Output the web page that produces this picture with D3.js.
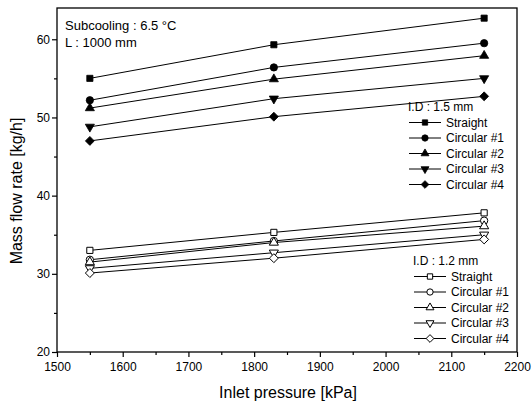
<!DOCTYPE html>
<html>
<head>
<meta charset="utf-8">
<script src="https://d3js.org/d3.v7.min.js"></script>
<style>
  body { margin: 0; background: #fff; }
  text { font-family: "Liberation Sans", Arial, sans-serif; fill: #000; }
</style>
</head>
<body>
<script>
var width = 532, height = 407;

// data
var pressures = [1550, 1830, 2150];
var seriesNames = ["Straight", "Circular #1", "Circular #2", "Circular #3", "Circular #4"];
var shapes = ["square", "circle", "triangle", "down", "diamond"];
var id15 = [
  [55.0, 59.3, 62.7],
  [52.2, 56.4, 59.5],
  [51.2, 54.9, 57.9],
  [48.8, 52.4, 55.0],
  [47.0, 50.1, 52.7]
];
var id12 = [
  [33.0, 35.3, 37.8],
  [31.8, 34.2, 36.8],
  [31.5, 34.0, 36.1],
  [30.7, 32.7, 35.0],
  [30.1, 32.0, 34.4]
];
var xTicks = [1500, 1600, 1700, 1800, 1900, 2000, 2100, 2200];
var yTicks = [20, 30, 40, 50, 60];

var margin = {left: 57, right: 15, top: 8, bottom: 55};

var svg = d3.select("body").append("svg")
    .attr("width", width)
    .attr("height", height);

var x = d3.scaleLinear().domain([1500, 2200]).range([margin.left, width - margin.right]);
var y = d3.scaleLinear().domain([20, 64]).range([height - margin.bottom, margin.top]);

// frame
svg.append("rect")
    .attr("x", x(1500)).attr("y", y(64))
    .attr("width", x(2200) - x(1500)).attr("height", y(20) - y(64))
    .attr("fill", "none").attr("stroke", "#000").attr("stroke-width", 1.3);

// axes
var xAxis = svg.append("g")
    .attr("transform", "translate(0," + y(20) + ")")
    .call(d3.axisBottom(x).tickValues(xTicks).tickSize(5).tickFormat(d3.format("d")));
svg.append("g")
    .attr("transform", "translate(0," + y(20) + ")")
    .call(d3.axisBottom(x).tickValues(d3.range(1550, 2200, 100)).tickSize(3).tickFormat(""));
var yAxis = svg.append("g")
    .attr("transform", "translate(" + x(1500) + ",0)")
    .call(d3.axisLeft(y).tickValues(yTicks).tickSize(5));
svg.append("g")
    .attr("transform", "translate(" + x(1500) + ",0)")
    .call(d3.axisLeft(y).tickValues([25, 35, 45, 55]).tickSize(3).tickFormat(""));

svg.selectAll(".domain").remove();
svg.selectAll(".tick line").attr("stroke", "#000").attr("stroke-width", 1.2);
xAxis.selectAll("text").attr("font-size", "12px").attr("dy", "0.95em")
    .style("font-family", "Liberation Sans, Arial, sans-serif");
yAxis.selectAll("text").attr("font-size", "12px").attr("x", -7)
    .style("font-family", "Liberation Sans, Arial, sans-serif");

// axis titles
svg.append("text")
    .attr("x", (x(1500) + x(2200)) / 2 + 1).attr("y", 398)
    .attr("text-anchor", "middle").attr("font-size", "16px")
    .text("Inlet pressure [kPa]");
svg.append("text")
    .attr("transform", "translate(22," + 191 + ") rotate(-90)")
    .attr("text-anchor", "middle").attr("font-size", "16px")
    .text("Mass flow rate [kg/h]");

// annotation
svg.append("text").attr("x", 65).attr("y", 30).attr("font-size", "13px")
    .text("Subcooling : 6.5 \u00B0C");
svg.append("text").attr("x", 65).attr("y", 47).attr("font-size", "13px")
    .text("L : 1000 mm");

// origin-style diamond: square turned 45 degrees
var diamondType = {
  draw: function(context, size) {
    var r = Math.sqrt(size / 2);
    context.moveTo(0, -r);
    context.lineTo(r, 0);
    context.lineTo(0, r);
    context.lineTo(-r, 0);
    context.closePath();
  }
};

function symbolFor(s, sc) {
  if (s === "square") return d3.symbol().type(d3.symbolSquare).size(38 * sc);
  if (s === "circle") return d3.symbol().type(d3.symbolCircle).size(42 * sc);
  if (s === "triangle") return d3.symbol().type(d3.symbolTriangle).size(36 * sc);
  if (s === "down") return d3.symbol().type(d3.symbolTriangle).size(36 * sc);
  return d3.symbol().type(diamondType).size(40 * sc);
}

function marker(g, s, cx, cy, filled, sc) {
  return g.append("path")
      .attr("d", symbolFor(s, sc || 1)())
      .attr("transform", "translate(" + cx + "," + cy + ")" + (s === "down" ? " rotate(180)" : ""))
      .attr("fill", filled ? "#000" : "#fff")
      .attr("stroke", "#000")
      .attr("stroke-width", filled ? 0.8 : 1);
}

var line = d3.line().x(function(d, i) { return x(pressures[i]); }).y(function(d) { return y(d); });

function drawGroup(data, filled) {
  data.forEach(function(vals, k) {
    var g = svg.append("g");
    g.append("path").attr("d", line(vals))
        .attr("fill", "none").attr("stroke", "#000").attr("stroke-width", 1);
    vals.forEach(function(v, i) {
      marker(g, shapes[k], x(pressures[i]), y(v), filled);
    });
  });
}
drawGroup(id15, true);
drawGroup(id12, false);

// legends
function legend(title, x0, y0, filled) {
  var g = svg.append("g");
  g.append("text").attr("x", x0).attr("y", y0 + 4).attr("font-size", "12px").text(title);
  seriesNames.forEach(function(n, k) {
    var yy = y0 + 15.5 * (k + 1);
    g.append("line").attr("x1", x0 + 1).attr("x2", x0 + 33).attr("y1", yy).attr("y2", yy)
        .attr("stroke", "#000").attr("stroke-width", 1);
    marker(g, shapes[k], x0 + 17, yy, filled, 0.75);
    g.append("text").attr("x", x0 + 38).attr("y", yy + 4).attr("font-size", "12px").text(n);
  });
}
legend("I.D : 1.5 mm", 408, 107, true);
legend("I.D : 1.2 mm", 413, 261, false);
</script>
</body>
</html>
